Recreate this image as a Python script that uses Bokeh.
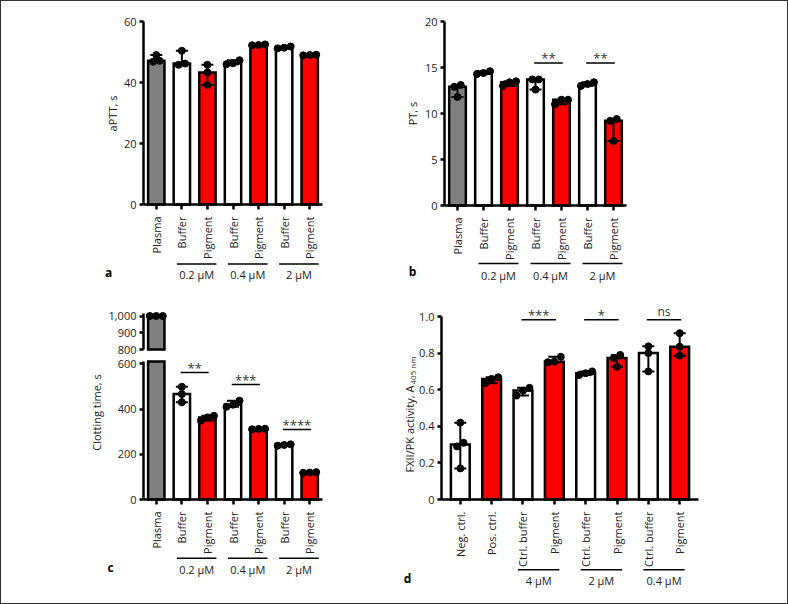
import numpy as np
from bokeh.plotting import figure
from bokeh.models import FixedTicker, NumeralTickFormatter
from bokeh.core.properties import value
from bokeh.layouts import column, row
from bokeh.embed import file_html
from bokeh.resources import INLINE

FONT = "Open Sans"
TXT = "#222222"
FILL = {"plasma": "#808080", "buffer": "#ffffff", "pigment": "#ff0000"}

# ---------------- data ----------------
abc_labels = ["Plasma", "Buffer", "Pigment", "Buffer", "Pigment", "Buffer", "Pigment"]
abc_kinds = ["plasma", "buffer", "pigment", "buffer", "pigment", "buffer", "pigment"]
abc_groups = ["0.2 µM", "0.4 µM", "2 µM"]
abc_group_pairs = [(1, 2), (3, 4), (5, 6)]

aptt_s = [[49.0, 47.1, 46.8], [50.4, 46.2, 45.8], [45.8, 43.3, 39.2], [47.3, 46.3, 46.0],
          [52.5, 52.3, 52.2], [51.8, 51.4, 51.2], [49.1, 49.0, 48.9]]
pt_s = [[13.1, 12.9, 11.8], [14.6, 14.4, 14.3], [13.5, 13.4, 13.0], [13.7, 13.7, 12.6],
        [11.5, 11.5, 11.0], [13.4, 13.2, 13.0], [9.4, 9.2, 7.0]]
clotting_s = [[1000, 1000, 1000], [498, 466, 430], [370, 363, 349], [437, 419, 410],
              [313, 312, 310], [244, 241, 238], [121, 119, 118]]

d_labels = ["Neg. ctrl.", "Pos. ctrl.", "Ctrl. buffer", "Pigment", "Ctrl. buffer", "Pigment",
            "Ctrl. buffer", "Pigment"]
d_kinds = ["buffer", "pigment", "buffer", "pigment", "buffer", "pigment", "buffer", "pigment"]
d_groups = ["4 µM", "2 µM", "0.4 µM"]
d_group_pairs = [(2, 3), (4, 5), (6, 7)]
fxii_a405 = [[0.42, 0.31, 0.29, 0.17], [0.668, 0.659, 0.635], [0.61, 0.595, 0.568],
             [0.78, 0.753, 0.75], [0.70, 0.69, 0.68], [0.79, 0.773, 0.726],
             [0.837, 0.80, 0.70], [0.909, 0.835, 0.786]]

pt_sig = [(3, 4, 15.5, "**"), (5, 6, 15.5, "**")]
clot_sig = [(1, 2, 561, "**"), (3, 4, 508, "***"), (5, 6, 309, "****")]
fxii_sig = [(2, 3, 0.982, "***"), (4, 5, 0.982, "*"), (6, 7, 0.982, "ns")]

a_yticks = [0, 20, 40, 60]
b_yticks = [0, 5, 10, 15, 20]
c_top_yticks = [800, 900, 1000]
c_bot_yticks = [0, 200, 400, 600]
d_yticks = [0, 0.2, 0.4, 0.6, 0.8, 1.0]


class Panel:
    """A figure whose frame fills the whole canvas; axes are pinned with fixed_location."""

    def __init__(self, ox, oy, w, h, fl, ft, fw, fh, xa, ya, x_axis=True):
        self.ox, self.oy = ox, oy
        self.xa, self.ya = xa, ya
        self.ux_ = fw / (xa[1] - xa[0])
        self.uy_ = fh / (ya[1] - ya[0])
        self.x0 = xa[0] - (fl - ox) / self.ux_
        x1 = xa[1] + (ox + w - (fl + fw)) / self.ux_
        self.y1 = ya[1] + (ft - oy) / self.uy_
        y0 = ya[0] - (oy + h - (ft + fh)) / self.uy_
        self.fig = figure(width=w, height=h, x_range=(self.x0, x1), y_range=(y0, self.y1),
                          min_border=0, output_backend="svg", toolbar_location=None,
                          title=None,
                          x_axis_location="below" if x_axis else None)
        p = self.fig
        p.outline_line_color = None
        p.grid.visible = False
        p.background_fill_color = "white"
        p.border_fill_color = "white"
        for ax in p.yaxis:
            ax.fixed_location = xa[0]
            ax.bounds = ya
        for ax in p.xaxis:
            ax.fixed_location = ya[0]
            ax.bounds = xa

    def ux(self):
        return self.ux_

    def uy(self):
        return self.uy_

    def dx(self, X):
        return self.x0 + (X - self.ox) / self.ux_

    def dy(self, Y):
        return self.y1 - (Y - self.oy) / self.uy_

    def px(self, x):
        return self.ox + (x - self.x0) * self.ux_

    def py(self, y):
        return self.oy + (self.y1 - y) * self.uy_


def style_axes(P, yticks, xlabels=None):
    p = P.fig
    for ax in p.yaxis:
        ax.ticker = FixedTicker(ticks=yticks, minor_ticks=[])
        ax.axis_line_width = 2.5
        ax.axis_line_color = "black"
        ax.major_tick_line_width = 2.5
        ax.major_tick_line_color = "black"
        ax.major_tick_out = 4
        ax.major_tick_in = 0
        ax.minor_tick_out = 0
        ax.minor_tick_in = 0
        ax.major_label_text_font = FONT
        ax.major_label_text_font_size = "11px"
        ax.major_label_text_color = TXT
        ax.major_label_standoff = 3
    if xlabels is not None:
        for ax in p.xaxis:
            ax.ticker = FixedTicker(ticks=list(range(len(xlabels))), minor_ticks=[])
            ax.major_label_overrides = {i: t for i, t in enumerate(xlabels)}
            ax.major_label_orientation = np.pi / 2
            ax.axis_line_width = 2.5
            ax.axis_line_color = "black"
            ax.major_tick_line_width = 2.5
            ax.major_tick_line_color = "black"
            ax.major_tick_out = 5
            ax.major_tick_in = 0
            ax.minor_tick_out = 0
            ax.minor_tick_in = 0
            ax.major_label_text_font = FONT
            ax.major_label_text_font_size = "11px"
            ax.major_label_text_color = TXT
            ax.major_label_standoff = 7


def spread(vals, tol, step):
    vals = np.asarray(vals, dtype=float)
    order = np.argsort(vals)
    sv = vals[order]
    clusters = [[order[0]]]
    for k in range(1, len(order)):
        if sv[k] - sv[k - 1] < tol:
            clusters[-1].append(order[k])
        else:
            clusters.append([order[k]])
    offs = np.zeros(len(vals))
    for cl in clusters:
        n = len(cl)
        for j, idx in enumerate(cl):
            offs[idx] = (j - (n - 1) / 2) * step
    return offs


def draw_bars(P, kinds, samples, bar_w, lo_lim=None, hi_lim=None):
    """Bars (median), range error bars and points; only the part inside [lo_lim, hi_lim]."""
    p = P.fig
    lo_lim = P.ya[0] if lo_lim is None else lo_lim
    hi_lim = P.ya[1] if hi_lim is None else hi_lim
    cap = 6.0 / P.ux()
    bx, btop, bbot, bcol = [], [], [], []
    ex, elo, ehi = [], [], []
    cx0, cx1, cy = [], [], []
    dxs, dys = [], []
    tol = 5.0 / P.uy()
    step = 6.5 / P.ux()
    for i, (k, s) in enumerate(zip(kinds, samples)):
        med = float(np.median(s))
        lo, hi = float(min(s)), float(max(s))
        if med >= lo_lim:
            bx.append(i)
            btop.append(min(med, hi_lim))
            bbot.append(max(0.0, lo_lim))
            bcol.append(FILL[k])
        a, b = max(lo, lo_lim), min(hi, hi_lim)
        if b > a:
            ex.append(i); elo.append(a); ehi.append(b)
        for v in (lo, hi):
            if lo_lim <= v <= hi_lim:
                cx0.append(i - cap); cx1.append(i + cap); cy.append(v)
        offs = spread(s, tol, step)
        for v, o in zip(s, offs):
            if lo_lim <= v <= hi_lim:
                dxs.append(i + o); dys.append(v)
    p.vbar(x=bx, top=btop, bottom=bbot, width=bar_w, fill_color=bcol,
           line_color="black", line_width=2.5, line_join="miter")
    if ex:
        p.segment(x0=ex, y0=elo, x1=ex, y1=ehi, line_color="black", line_width=2)
    if cy:
        p.segment(x0=cx0, y0=cy, x1=cx1, y1=cy, line_color="black", line_width=2)
    p.scatter(x=dxs, y=dys, size=7, color="black")


def text(P, X, Y, s, size="11px", bold=False, angle=0.0, align="center",
         baseline="middle", color=TXT):
    P.fig.text(x=[P.dx(X)], y=[P.dy(Y)], text=[s], text_font=value(FONT),
               text_font_size=value(size),
               text_font_style=value("bold" if bold else "normal"),
               angle=angle, text_align=value(align), text_baseline=value(baseline),
               text_color=color)


def groups(P, pairs, names, Yline, Ytext, lpad, rpad):
    for (i, j), name in zip(pairs, names):
        x0 = i - lpad / P.ux()
        x1 = j + rpad / P.ux()
        yl = P.dy(Yline)
        P.fig.segment(x0=[x0], y0=[yl], x1=[x1], y1=[yl], line_color="black", line_width=1.5)
        text(P, P.px((x0 + x1) / 2), Ytext, name)


def sig(P, items):
    p = P.fig
    for i, j, yv, s in items:
        x0 = i - 0.05
        x1 = j + 0.05
        p.segment(x0=[x0], y0=[yv], x1=[x1], y1=[yv], line_color="black", line_width=1.5)
        Y = P.py(yv)
        cx = P.px((x0 + x1) / 2)
        if s == "ns":
            text(P, cx, Y - 8.5, s, size="12px", color="#333333")
        else:
            text(P, cx, Y - 4.5, s, size="13px", color="#333333")


# ---------------- panel a ----------------
A = Panel(1, 1, 393, 299, 143, 21, 179, 183, (-0.5, 6.5), (0, 60))
style_axes(A, a_yticks, abc_labels)
draw_bars(A, abc_kinds, aptt_s, 0.64)
groups(A, abc_group_pairs, abc_groups, 263.5, 274, 5, 9)
text(A, 112, 113, "aPTT, s", angle=np.pi / 2)
text(A, 108, 272, "a", size="12px", bold=True, color="black")

# ---------------- panel b ----------------
B = Panel(394, 1, 393, 299, 444, 21, 182, 184, (-0.5, 6.5), (0, 20))
style_axes(B, b_yticks, abc_labels)
draw_bars(B, abc_kinds, pt_s, 0.64)
sig(B, pt_sig)
groups(B, abc_group_pairs, abc_groups, 263, 275, 5, 9)
text(B, 412, 113, "PT, s", angle=np.pi / 2)
text(B, 412, 271, "b", size="12px", bold=True, color="black")

# ---------------- panel c (broken axis) ----------------
CT = Panel(1, 300, 393, 57, 143, 313, 179, 36, (-0.5, 6.5), (800, 1015), x_axis=False)
style_axes(CT, c_top_yticks)
CT.fig.yaxis.formatter = NumeralTickFormatter(format="0,0")
draw_bars(CT, abc_kinds, clotting_s, 0.64)

CB = Panel(1, 357, 393, 246, 143, 361, 179, 138, (-0.5, 6.5), (0, 610))
style_axes(CB, c_bot_yticks, abc_labels)
draw_bars(CB, abc_kinds, clotting_s, 0.64)
sig(CB, clot_sig)
groups(CB, abc_group_pairs, abc_groups, 557.7, 568.5, 5, 9)
text(CB, 96, 412, "Clotting time, s", angle=np.pi / 2)
text(CB, 110, 567, "c", size="12px", bold=True, color="black")

# ---------------- panel d ----------------
D = Panel(394, 300, 393, 303, 441, 316, 257, 183, (-0.6, 7.6), (0, 1.0))
style_axes(D, d_yticks, d_labels)
D.fig.yaxis.major_label_overrides = {0: "0", 1: "1.0"}
draw_bars(D, d_kinds, fxii_a405, 0.6)
sig(D, fxii_sig)
groups(D, d_group_pairs, d_groups, 569.3, 579.5, 5, 5)
text(D, 409, 472, "FXII/PK activity, A", angle=np.pi / 2, align="left")
text(D, 411.5, 384, "405 nm", size="8px", angle=np.pi / 2, align="left")
text(D, 407, 578, "d", size="12px", bold=True, color="black")

root = column(row(A.fig, B.fig), row(column(CT.fig, CB.fig), D.fig),
              styles={"position": "absolute", "left": "0px", "top": "0px",
                      "border": "1px solid #333333", "background-color": "white"})

open("out.html", "w").write(file_html(root, INLINE))
